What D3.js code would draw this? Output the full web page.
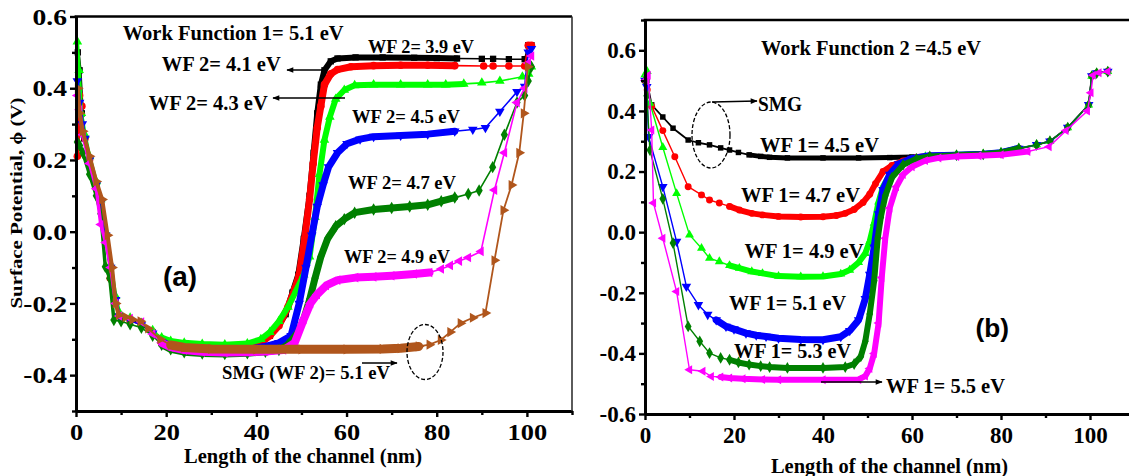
<!DOCTYPE html>
<html>
<head>
<meta charset="utf-8">
<script src="https://cdn.jsdelivr.net/npm/d3@7"></script>
<style>
html,body{margin:0;padding:0;background:#fff;}
svg{display:block;}
</style>
</head>
<body>
<svg id="chart" width="1129" height="476"></svg>
<script>
// ================= DATA =================
const xTickValues = [0, 20, 40, 60, 80, 100];
const xMinorValues = [10, 30, 50, 70, 90, 110];
const yTickValuesA = [0.6, 0.4, 0.2, 0.0, -0.2, -0.4];
const yMinorValuesA = [0.5, 0.3, 0.1, -0.1, -0.3, -0.5];
const yTickValuesB = [0.6, 0.4, 0.2, 0.0, -0.2, -0.4, -0.6];
const yMinorValuesB = [0.7, 0.5, 0.3, 0.1, -0.1, -0.3, -0.5];

// Panel (a): Work Function 1 = 5.1 eV, WF 2 varied  [x (nm), surface potential (V)]
const aWF39 = [[0.4,0.5],[0.8,0.45],[1.3,0.33],[1.8,0.26],[3,0.2],[4.5,0.13],[5.5,0.08],[6.6,-0.01],[7.7,-0.1],[8.8,-0.19],[9.6,-0.232],[12,-0.245],[14.5,-0.258],[17,-0.28],[19,-0.303],[21,-0.315],[24,-0.322],[28,-0.325],[33,-0.326],[38,-0.322],[41,-0.31],[43,-0.29],[45,-0.26],[46.5,-0.23],[48,-0.17],[49.3,-0.12],[50.5,-0.02],[51.8,0.1],[52.7,0.22],[53.5,0.33],[54.3,0.41],[55.1,0.45],[56.5,0.475],[58,0.483],[62,0.486],[68,0.486],[75,0.485],[80,0.484],[84.5,0.483],[90,0.482],[92.5,0.482],[96,0.481],[99.5,0.481],[100.3,0.52],[101,0.52]];
const aWF41 = [[0.3,0.21],[0.8,0.38],[1.3,0.35],[2,0.26],[3,0.2],[4.5,0.125],[5.5,0.075],[6.6,-0.015],[7.6,-0.13],[8.8,-0.2],[9.6,-0.235],[12,-0.248],[14.5,-0.26],[17,-0.282],[19,-0.305],[21,-0.316],[24,-0.323],[28,-0.326],[33,-0.327],[38,-0.323],[41,-0.31],[43,-0.29],[45,-0.262],[47,-0.21],[48.5,-0.16],[49.5,-0.12],[50.7,-0.02],[51.8,0.09],[52.6,0.19],[53.5,0.29],[54.3,0.35],[55.1,0.41],[56.5,0.44],[58,0.452],[61,0.46],[66,0.463],[72,0.464],[78,0.464],[84,0.463],[90.4,0.462],[92.5,0.462],[96,0.462],[99.5,0.462],[100.3,0.52],[101,0.52]];
const aWF43 = [[0.3,0.53],[0.7,0.45],[1.2,0.33],[2,0.27],[3,0.21],[4.5,0.14],[5.5,0.09],[6.6,0.0],[7.7,-0.09],[8.8,-0.18],[9.6,-0.225],[12,-0.24],[14.5,-0.255],[17,-0.275],[19,-0.295],[21,-0.305],[24,-0.31],[28,-0.313],[33,-0.315],[38,-0.312],[41,-0.3],[43,-0.28],[45,-0.25],[47,-0.21],[49,-0.16],[50.5,-0.12],[51.8,-0.07],[53,0.04],[54,0.16],[55.1,0.256],[56.3,0.32],[57.6,0.37],[59.5,0.395],[61.8,0.408],[66,0.41],[72,0.41],[78,0.41],[82,0.41],[86,0.412],[90,0.415],[94,0.42],[99,0.432],[100.4,0.44],[101,0.46]];
const aWF45 = [[0.3,0.42],[0.8,0.36],[1.4,0.3],[2,0.26],[3,0.2],[4.5,0.13],[5.5,0.08],[6.6,-0.01],[7.7,-0.1],[8.8,-0.19],[9.6,-0.235],[12,-0.248],[14.5,-0.26],[17,-0.283],[19,-0.307],[21,-0.318],[24,-0.326],[28,-0.33],[33,-0.331],[38,-0.328],[42,-0.32],[45,-0.31],[47.7,-0.29],[49.5,-0.2],[51,-0.1],[52.3,-0.01],[53.5,0.07],[54.8,0.13],[56,0.18],[58,0.22],[60.1,0.245],[63,0.258],[66,0.265],[72,0.268],[78,0.272],[84,0.28],[88,0.285],[90.8,0.29],[94,0.335],[97.8,0.39],[99.5,0.405],[100.3,0.5],[101,0.51]];
const aWF47 = [[0.3,0.25],[0.8,0.24],[1.5,0.22],[3,0.16],[4.5,0.1],[5.5,0.05],[6.5,-0.098],[7.5,-0.13],[8.4,-0.246],[10,-0.25],[12,-0.258],[14.5,-0.268],[17,-0.29],[19,-0.315],[21,-0.328],[24,-0.336],[28,-0.34],[33,-0.341],[38,-0.339],[42,-0.335],[45,-0.33],[47,-0.315],[49.3,-0.28],[50.6,-0.24],[51.8,-0.19],[53,-0.13],[54.3,-0.07],[55.8,-0.02],[57.6,0.015],[59.5,0.035],[61.8,0.053],[66,0.062],[70,0.066],[74,0.07],[78,0.075],[81,0.085],[84,0.095],[87,0.105],[89.4,0.115],[92.4,0.18],[95,0.27],[97.8,0.36],[99.5,0.38],[100.3,0.42],[101,0.46]];
const aWF49 = [[0.3,0.38],[0.8,0.34],[1.5,0.27],[3,0.19],[4.5,0.12],[5.5,0.02],[6.6,-0.03],[7.7,-0.1],[8.8,-0.2],[9.6,-0.235],[12,-0.242],[14.5,-0.252],[17,-0.285],[19,-0.31],[21,-0.322],[24,-0.33],[28,-0.335],[33,-0.337],[38,-0.336],[42,-0.334],[46,-0.33],[48.5,-0.31],[50.5,-0.245],[52,-0.2],[53.5,-0.175],[55.5,-0.15],[58,-0.135],[62,-0.128],[66,-0.126],[70,-0.123],[75,-0.118],[78.4,-0.114],[81,-0.104],[83,-0.094],[85,-0.082],[87,-0.072],[89.8,-0.055],[92.8,0.116],[95,0.22],[97.8,0.36],[99.5,0.4],[100.3,0.47],[101,0.49]];
const aSMG51 = [[0.4,0.4],[0.8,0.33],[1.5,0.28],[3,0.21],[4.5,0.14],[5.8,0.09],[7,-0.01],[8,-0.1],[8.8,-0.2],[9.5,-0.232],[11,-0.238],[12.5,-0.245],[14.3,-0.25],[16,-0.27],[18.7,-0.3],[21,-0.316],[24,-0.323],[30,-0.327],[40,-0.328],[50,-0.328],[60,-0.328],[68,-0.327],[72,-0.325],[76,-0.32],[78.4,-0.315],[80.9,-0.302],[83,-0.28],[85.3,-0.255],[88,-0.24],[90.8,-0.227],[92.8,-0.08],[94.8,0.06],[96.6,0.13],[98.3,0.22],[99.3,0.33],[100.2,0.46]];

// Panel (b): Work Function 2 = 4.5 eV, WF 1 varied
const bWF45 = [[0,0.5],[0.4,0.5],[1.5,0.42],[4,0.38],[6.3,0.343],[9.7,0.304],[12,0.295],[14.5,0.288],[17,0.278],[19,0.271],[21,0.263],[23.4,0.255],[26,0.25],[28,0.247],[32,0.245],[40,0.245],[48,0.245],[55,0.246],[60,0.248],[64,0.25],[70,0.253],[76,0.256],[80,0.262],[84,0.276],[88,0.288],[91,0.3],[95,0.345],[99.7,0.42],[100.4,0.515],[101.5,0.525],[104,0.53]];
const bWF47 = [[0,0.5],[0.5,0.47],[1.5,0.415],[4,0.335],[6.7,0.249],[9.7,0.15],[12.7,0.123],[14.5,0.106],[16.7,0.096],[19,0.085],[21.2,0.073],[24,0.062],[26.4,0.057],[30,0.052],[35,0.05],[40,0.051],[43,0.055],[45,0.062],[47,0.075],[49,0.098],[50.5,0.125],[51.8,0.16],[53.5,0.2],[55.5,0.22],[58,0.235],[61,0.247],[64,0.252],[70,0.254],[76,0.257],[80,0.262],[84,0.276],[88,0.288],[91,0.3],[95,0.345],[99.7,0.42],[100.4,0.515],[101.5,0.525],[104,0.53]];
const bWF49 = [[0,0.52],[0.5,0.53],[1.1,0.426],[4,0.28],[7.1,0.128],[10,-0.009],[12.7,-0.053],[14.5,-0.086],[16.7,-0.097],[19,-0.11],[21.2,-0.119],[24,-0.13],[26.4,-0.136],[30,-0.145],[35,-0.147],[40,-0.146],[44,-0.138],[46,-0.125],[48,-0.1],[49.5,-0.07],[50.5,-0.03],[51.5,0.03],[52.5,0.1],[53.5,0.15],[55,0.19],[57,0.22],[60,0.24],[63,0.25],[70,0.255],[76,0.258],[80,0.263],[84,0.277],[88,0.289],[91,0.3],[95,0.345],[99.7,0.42],[100.4,0.515],[101.5,0.525],[104,0.53]];
const bWF51 = [[0,0.5],[0.4,0.48],[0.8,0.315],[4,0.15],[7.1,-0.031],[9.3,-0.179],[12,-0.24],[14.1,-0.272],[16,-0.29],[18.2,-0.311],[20,-0.32],[22.7,-0.333],[25,-0.34],[27.2,-0.344],[30,-0.35],[35,-0.354],[40,-0.355],[44,-0.345],[46,-0.325],[48,-0.29],[49.5,-0.22],[50.5,-0.14],[51.5,-0.05],[52.5,0.06],[53.5,0.14],[55,0.19],[57,0.225],[60,0.243],[64,0.252],[70,0.254],[76,0.257],[80,0.262],[84,0.276],[88,0.288],[91,0.3],[95,0.345],[99.7,0.42],[100.4,0.515],[101.5,0.525],[104,0.53]];
const bWF53 = [[0,0.5],[0.4,0.45],[1.1,0.271],[4,0.11],[6.3,-0.036],[9.7,-0.311],[12.3,-0.36],[14.5,-0.399],[17,-0.415],[19,-0.421],[21,-0.43],[23.4,-0.437],[26,-0.442],[28,-0.445],[32,-0.448],[40,-0.448],[45,-0.445],[47,-0.435],[48.5,-0.41],[49.5,-0.36],[50.5,-0.27],[51.5,-0.16],[52.3,-0.02],[53,0.05],[54,0.12],[55.5,0.18],[58,0.222],[61,0.242],[64,0.25],[70,0.254],[76,0.257],[80,0.262],[84,0.276],[88,0.288],[91,0.3],[95,0.345],[99.7,0.42],[100.4,0.515],[101.5,0.525],[104,0.53]];
const bWF55 = [[0,0.5],[0.7,0.518],[1.5,0.337],[1.9,0.096],[4,-0.02],[7.1,-0.196],[10,-0.454],[13,-0.459],[14.9,-0.476],[17,-0.478],[19,-0.481],[22,-0.484],[26.4,-0.486],[30,-0.487],[40,-0.487],[48,-0.486],[49.5,-0.475],[50.5,-0.45],[51.5,-0.4],[52.5,-0.3],[53.2,-0.15],[54,-0.02],[55,0.08],[56.5,0.15],[58,0.19],[60,0.216],[63,0.236],[66,0.245],[70,0.25],[75,0.252],[80,0.255],[86,0.266],[90.8,0.282],[94.6,0.335],[99.4,0.4],[100.2,0.46],[100.7,0.518],[102,0.526],[104,0.53]];

// ================= RENDER =================
const SERIF = "'Liberation Serif','Times New Roman',serif";
const SANS = "'Liberation Sans',Arial,sans-serif";
const svg = d3.select("#chart");

const defs = svg.append("defs");
defs.append("marker").attr("id","ah").attr("viewBox","0 0 10 10")
  .attr("refX",9).attr("refY",5).attr("markerWidth",9).attr("markerHeight",7)
  .attr("markerUnits","userSpaceOnUse").attr("orient","auto")
  .append("path").attr("d","M0,1 L10,5 L0,9 Z").attr("fill","#000");

const xA = d3.scaleLinear().domain([0,110]).range([76,572]);
const yA = d3.scaleLinear().domain([-0.5,0.6]).range([411,16.5]);
const xB = d3.scaleLinear().domain([0,110]).range([645,1134.5]);
const yB = d3.scaleLinear().domain([-0.6,0.7]).range([414,20]);

const symbols = {
  square:[d3.symbolSquare,0], circle:[d3.symbolCircle,0], up:[d3.symbolTriangle,0],
  down:[d3.symbolTriangle,180], diamond:[d3.symbolDiamond,0], left:[d3.symbolTriangle,-90], right:[d3.symbolTriangle,90]
};

const fmt = d => (Math.abs(d) < 1e-9 ? 0 : d).toFixed(1);

function drawAxes(g, x, y, yTicks, yMinor, xMinor, opt) {
  const y0 = y.range()[0], y1 = y.range()[1];
  const x0 = x.range()[0], x1 = x.range()[1];
  const gx = g.append("g").attr("transform",`translate(0,${y0})`)
    .call(d3.axisBottom(x).tickValues(xTickValues).tickSize(6).tickSizeOuter(0).tickPadding(opt.padX).tickFormat(d3.format("d")));
  const gxm = g.append("g").attr("transform",`translate(0,${y0})`)
    .call(d3.axisBottom(x).tickValues(xMinor).tickSize(4).tickSizeOuter(0).tickFormat(""));
  const gy = g.append("g").attr("transform",`translate(${x0},0)`)
    .call(d3.axisLeft(y).tickValues(yTicks).tickSize(6).tickSizeOuter(0).tickPadding(opt.padY).tickFormat(fmt));
  const gym = g.append("g").attr("transform",`translate(${x0},0)`)
    .call(d3.axisLeft(y).tickValues(yMinor).tickSize(4).tickSizeOuter(0).tickFormat(""));
  [gx,gxm,gy,gym].forEach(a => {
    a.select(".domain").attr("stroke","#000").attr("stroke-width",2.8);
    a.selectAll(".tick line").attr("stroke","#000").attr("stroke-width",2.4);
    a.selectAll(".tick text").attr("fill","#000").attr("font-family",SERIF).attr("font-weight","bold");
  });
  gx.selectAll(".tick text").attr("font-size", opt.sizeX).attr("transform", `scale(${opt.stretchX},1)`);
  gy.selectAll(".tick text").attr("font-size", opt.sizeY)
    .attr("x", -(6 + opt.padY) / opt.stretchY).attr("transform", `scale(${opt.stretchY},1)`);
  g.append("line").attr("x1",x0-1.4).attr("x2",x1).attr("y1",y1).attr("y2",y1)
    .attr("stroke","#000").attr("stroke-width",2.6);
  g.append("line").attr("x1",x1).attr("x2",x1).attr("y1",y1).attr("y2",y0)
    .attr("stroke","#333").attr("stroke-width",1.6);
}

function drawSeries(g, x, y, s) {
  const line = d3.line().x(d => x(d[0])).y(d => y(d[1]));
  g.append("path").attr("d", line(s.data)).attr("fill","none")
    .attr("stroke", s.color).attr("stroke-width", s.thin).attr("stroke-linejoin","round");
  s.dense.forEach(([lo, hi, w]) => {
    const seg = s.data.filter(d => d[0] >= lo && d[0] <= hi);
    g.append("path").attr("d", line(seg)).attr("fill","none")
      .attr("stroke", s.color).attr("stroke-width", w)
      .attr("stroke-linejoin","round").attr("stroke-linecap","round");
  });
  const [type, rot] = symbols[s.sym];
  const path = d3.symbol(type, s.msize)();
  g.append("g").selectAll("path").data(s.data).join("path")
    .attr("transform", d => `translate(${x(d[0])},${y(d[1])}) rotate(${rot})`)
    .attr("d", path).attr("fill", s.color);
}

function text(g, t, xp, yp, size, width, family, anchor) {
  const el = g.append("text").attr("x", xp).attr("y", yp)
    .attr("font-family", family || SERIF).attr("font-weight","bold")
    .attr("font-size", size).attr("fill","#000").text(t);
  if (anchor) el.attr("text-anchor", anchor);
  if (width) el.attr("textLength", width).attr("lengthAdjust","spacingAndGlyphs");
  return el;
}
function arrow(g, x1, y1, x2, y2) {
  g.append("line").attr("x1",x1).attr("y1",y1).attr("x2",x2).attr("y2",y2)
    .attr("stroke","#000").attr("stroke-width",1.3).attr("marker-end","url(#ah)");
}
function ellipse(g, cx, cy, rx, ry) {
  g.append("ellipse").attr("cx",cx).attr("cy",cy).attr("rx",rx).attr("ry",ry)
    .attr("fill","none").attr("stroke","#000").attr("stroke-width",1.3).attr("stroke-dasharray","4,2");
}

// ---------- Panel (a) ----------
const gA = svg.append("g");
const seriesA = [
  {data:aWF39, color:"#000000", sym:"square",  dense:[[0,1.3,4],[19,86,6]], thin:1.6, msize:40},
  {data:aWF41, color:"#ff0000", sym:"circle",  dense:[[0,1.3,4],[19,86,7]], thin:1.6, msize:45},
  {data:aWF43, color:"#00ff00", sym:"up",      dense:[[0,9.6,3.5],[19,88,6]], thin:1.6, msize:40},
  {data:aWF45, color:"#0000ff", sym:"down",    dense:[[0,9.6,3.5],[19,86,7]], thin:1.6, msize:40},
  {data:aWF47, color:"#008000", sym:"diamond", dense:[[0,9.6,3.5],[19,84,7]], thin:1.6, msize:45},
  {data:aWF49, color:"#ff00ff", sym:"left",    dense:[[0,9.6,3.5],[19,80,8]], thin:1.6, msize:40},
  {data:aSMG51,color:"#b0561c", sym:"right",   dense:[[0,9.6,4],[19,78,9]], thin:1.8, msize:45}
];
seriesA.forEach(s => drawSeries(gA, xA, yA, s));
drawAxes(gA, xA, yA, yTickValuesA, yMinorValuesA, xMinorValues,
  {padX:6, padY:3, sizeX:24, sizeY:24, stretchX:1.1, stretchY:1.15});

text(gA, "Work Function 1= 5.1 eV", 122.7, 40, 20, 221);
text(gA, "WF 2= 3.9 eV", 368, 53, 19, 106);
text(gA, "WF 2= 4.1 eV", 161.7, 71, 20, 119);
arrow(gA, 323, 70, 287, 70);
text(gA, "WF 2= 4.3 eV", 148.7, 110, 20, 119);
arrow(gA, 345, 98, 273, 98);
text(gA, "WF 2= 4.5 eV", 352, 123, 19, 108);
text(gA, "WF 2= 4.7 eV", 348, 189, 19, 108);
text(gA, "WF 2= 4.9 eV", 344, 263, 19, 106);
text(gA, "SMG (WF 2)= 5.1 eV", 222, 379, 19, 168);
arrow(gA, 362, 363, 397, 363);
ellipse(gA, 425, 352, 18, 27.5);
text(gA, "(a)", 163, 286, 27, 34, SANS);
text(gA, "Length of the channel (nm)", 303, 463, 22, 238, SERIF, "middle");
text(gA, "Surface Potential, \u03D5 (V)", 0, 0, 17, 211, SERIF, "middle")
  .attr("transform","translate(22,203) rotate(-90)");

// ---------- Panel (b) ----------
const gB = svg.append("g");
const seriesB = [
  {data:bWF45, color:"#000000", sym:"square",  dense:[[22,86,5]], thin:1.8, msize:30},
  {data:bWF47, color:"#ff0000", sym:"circle",  dense:[[17,86,6]], thin:1.4, msize:38},
  {data:bWF49, color:"#00ff00", sym:"up",      dense:[[19,86,6]], thin:1.4, msize:35},
  {data:bWF51, color:"#0000ff", sym:"down",    dense:[[16,86,7]], thin:1.4, msize:40},
  {data:bWF53, color:"#008000", sym:"diamond", dense:[[19,86,6]], thin:1.4, msize:40},
  {data:bWF55, color:"#ff00ff", sym:"left",    dense:[[15,86,6]], thin:1.4, msize:35}
];
seriesB.forEach(s => drawSeries(gB, xB, yB, s));
drawAxes(gB, xB, yB, yTickValuesB, yMinorValuesB, xMinorValues,
  {padX:7, padY:3, sizeX:23, sizeY:23, stretchX:1, stretchY:1});

text(gB, "Work Function 2 =4.5 eV", 761, 55, 20, 220);
text(gB, "SMG", 758, 111, 20, 44);
arrow(gB, 712, 102, 757, 101);
ellipse(gB, 711, 135, 19, 33);
text(gB, "WF 1= 4.5 eV", 760, 152, 20, 119);
text(gB, "WF 1= 4.7 eV", 741, 202, 20, 119);
text(gB, "WF 1= 4.9 eV", 744.5, 258, 20, 119);
text(gB, "WF 1= 5.1 eV", 729, 310, 20, 117);
text(gB, "WF 1= 5.3 eV", 734, 358, 20, 117);
text(gB, "WF 1= 5.5 eV", 886, 393, 20, 119);
arrow(gB, 821, 382, 882, 382);
text(gB, "(b)", 975.5, 337, 26, 33.5, SANS);
text(gB, "Length of the channel (nm)", 889.5, 472.5, 22, 237, SERIF, "middle");
</script>
</body>
</html>
